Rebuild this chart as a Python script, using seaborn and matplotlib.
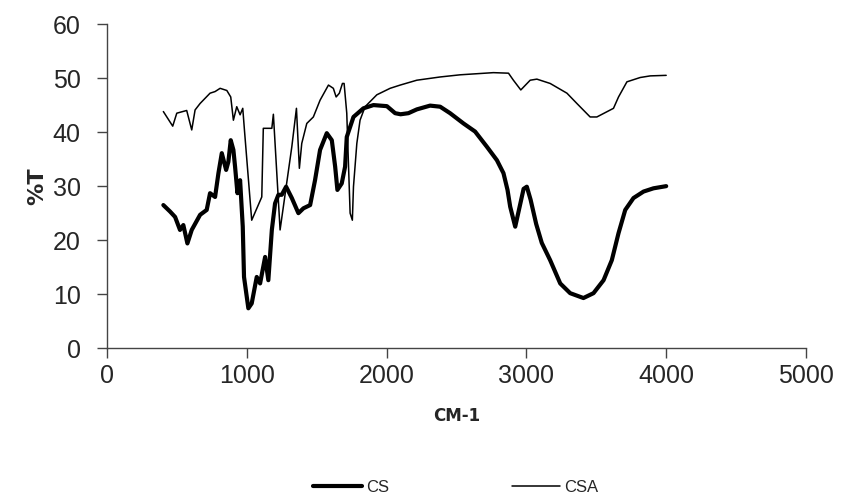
import matplotlib
matplotlib.use('Agg')
import matplotlib.pyplot as plt
from matplotlib.lines import Line2D
import seaborn as sns

# IR spectra (wavenumber cm-1, %T)
cs_wn = [403, 451, 487, 522, 546, 575, 606, 666, 713, 737, 773, 797, 821, 852,
         868, 885, 904, 916, 933, 952, 971, 980, 1011, 1035, 1071, 1095, 1131,
         1154, 1179, 1202, 1226, 1250, 1281, 1322, 1369, 1405, 1453, 1488, 1524,
         1572, 1608, 1632, 1648, 1679, 1703, 1715, 1763, 1834, 1906, 2002, 2061,
         2100, 2156, 2216, 2311, 2383, 2454, 2550, 2633, 2717, 2789, 2836, 2865,
         2884, 2920, 2950, 2980, 3003, 3030, 3070, 3110, 3170, 3242, 3313, 3408,
         3480, 3552, 3611, 3659, 3707, 3766, 3838, 3909, 4000]
cs_t = [26.5, 25.3, 24.3, 21.9, 22.8, 19.4, 21.9, 24.7, 25.6, 28.7, 28.0, 32.4,
        36.1, 33.0, 34.5, 38.5, 36.7, 33.6, 28.7, 31.1, 22.5, 13.2, 7.4, 8.3,
        13.2, 12.0, 16.9, 12.6, 21.9, 26.8, 28.4, 28.4, 29.9, 27.8, 25.0, 25.9,
        26.5, 31.1, 36.7, 39.8, 38.5, 33.6, 29.3, 30.5, 33.6, 39.1, 42.8, 44.4,
        45.0, 44.8, 43.5, 43.3, 43.5, 44.2, 44.9, 44.7, 43.5, 41.6, 40.1, 37.3,
        34.8, 32.4, 29.3, 26.2, 22.5, 26.0, 29.5, 29.9, 27.5, 23.0, 19.5, 16.3,
        12.0, 10.2, 9.3, 10.2, 12.6, 16.3, 21.3, 25.6, 27.8, 29.0, 29.6, 30.0]

csa_wn = [403, 470, 499, 570, 606, 630, 666, 737, 773, 809, 857, 885, 904, 928,
          952, 971, 983, 1035, 1107, 1118, 1179, 1190, 1238, 1322, 1355, 1376,
          1393, 1429, 1476, 1524, 1584, 1619, 1639, 1662, 1684, 1696, 1715, 1727,
          1739, 1755, 1763, 1787, 1810, 1846, 1930, 2025, 2097, 2216, 2383, 2526,
          2764, 2872, 2907, 2960, 3027, 3075, 3170, 3290, 3361, 3456, 3504, 3623,
          3659, 3719, 3814, 3886, 4000]
csa_t = [43.8, 41.1, 43.5, 44.0, 40.4, 44.1, 45.3, 47.2, 47.5, 48.1, 47.7, 46.5,
         42.2, 44.7, 43.2, 44.4, 40.4, 23.7, 28.0, 40.7, 40.7, 43.3, 21.9, 37.3,
         44.4, 33.3, 37.9, 41.6, 42.8, 45.9, 48.7, 48.1, 46.5, 47.2, 49.0, 49.0,
         43.5, 34.2, 25.0, 23.7, 29.9, 37.9, 42.2, 44.7, 46.9, 48.1, 48.7, 49.6,
         50.2, 50.6, 51.0, 50.9, 49.6, 47.8, 49.6, 49.8, 49.0, 47.2, 45.3, 42.8,
         42.8, 44.4, 46.5, 49.3, 50.1, 50.4, 50.5]

sns.set_style("white")
plt.rcParams['font.family'] = ['Liberation Sans', 'DejaVu Sans']

fig = plt.figure(figsize=(8.46, 5.0), dpi=100)
ax = fig.add_axes([0.1265, 0.3034, 0.8262, 0.6486])

sns.lineplot(x=cs_wn, y=cs_t, ax=ax, color='black', linewidth=3.0,
             estimator=None, sort=False)
sns.lineplot(x=csa_wn, y=csa_t, ax=ax, color='black', linewidth=1.1,
             estimator=None, sort=False)

ax.set_xlim(0, 5000)
ax.set_ylim(0, 60)
ax.set_xticks(range(0, 5001, 1000))
ax.set_yticks(range(0, 61, 10))
ax.tick_params(axis='both', direction='out', length=7, width=1,
               color='#444444', labelsize=18)
ax.tick_params(axis='x', pad=4)
ax.tick_params(axis='y', pad=12)
ax.tick_params(left=True, bottom=True)

for side in ['top', 'right']:
    ax.spines[side].set_visible(False)
for side in ['left', 'bottom']:
    ax.spines[side].set_color('#444444')
    ax.spines[side].set_linewidth(1.0)
ax.grid(False)

ax.set_xlabel('CM-1', family='DejaVu Sans', fontweight='bold', fontsize=12,
              labelpad=14)
ax.set_ylabel('%T', family='DejaVu Sans', fontweight='bold', fontsize=16,
              labelpad=4)

handles = [Line2D([0], [0], color='black', linewidth=3.0),
           Line2D([0], [0], color='black', linewidth=1.1)]
fig.legend(handles, ['CS', 'CSA'], loc='center', bbox_to_anchor=(0.539, 0.026),
           ncol=2, frameon=False, fontsize=12, handlelength=2.9,
           handletextpad=0.25, columnspacing=7.4)

fig.savefig('out.png', dpi=100)
